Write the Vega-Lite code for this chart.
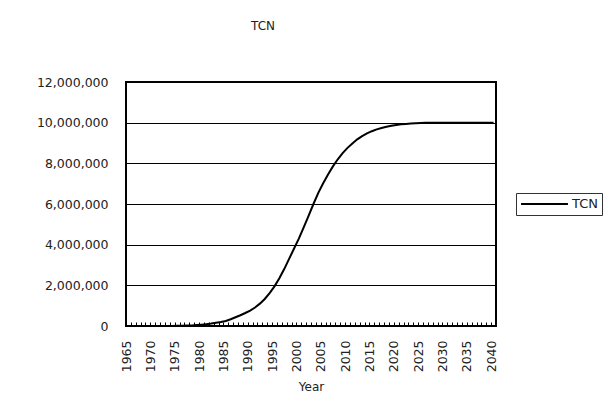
{
  "$schema": "https://vega.github.io/schema/vega-lite/v6.json",
  "autosize": "none",
  "width": 370,
  "height": 244,
  "padding": {"left": 126, "top": 82, "right": 115, "bottom": 84},
  "background": "white",
  "config": {
    "font": "DejaVu Sans",
    "view": {"stroke": "#000", "strokeWidth": 2},
    "axis": {"labelFont": "DejaVu Sans", "titleFont": "DejaVu Sans", "labelColor": "#222", "titleColor": "#222", "titleFontWeight": "normal"}
  },
  "title": {
    "text": "TCN",
    "fontSize": 12,
    "fontWeight": "normal",
    "color": "#222",
    "anchor": "middle",
    "dx": -48,
    "offset": 43
  },
  "data": {
    "values": [
      {"Year": 1965, "TCN": 0}, {"Year": 1966, "TCN": 0}, {"Year": 1967, "TCN": 0}, {"Year": 1968, "TCN": 0},
      {"Year": 1969, "TCN": 0}, {"Year": 1970, "TCN": 0}, {"Year": 1971, "TCN": 1000}, {"Year": 1972, "TCN": 2000},
      {"Year": 1973, "TCN": 4000}, {"Year": 1974, "TCN": 6000}, {"Year": 1975, "TCN": 10000}, {"Year": 1976, "TCN": 15000},
      {"Year": 1977, "TCN": 20000}, {"Year": 1978, "TCN": 30000}, {"Year": 1979, "TCN": 45000}, {"Year": 1980, "TCN": 65000},
      {"Year": 1981, "TCN": 90000}, {"Year": 1982, "TCN": 120000}, {"Year": 1983, "TCN": 160000}, {"Year": 1984, "TCN": 200000},
      {"Year": 1985, "TCN": 250000}, {"Year": 1986, "TCN": 330000}, {"Year": 1987, "TCN": 430000}, {"Year": 1988, "TCN": 530000},
      {"Year": 1989, "TCN": 640000}, {"Year": 1990, "TCN": 760000}, {"Year": 1991, "TCN": 910000}, {"Year": 1992, "TCN": 1100000},
      {"Year": 1993, "TCN": 1330000}, {"Year": 1994, "TCN": 1620000}, {"Year": 1995, "TCN": 1950000}, {"Year": 1996, "TCN": 2350000},
      {"Year": 1997, "TCN": 2800000}, {"Year": 1998, "TCN": 3300000}, {"Year": 1999, "TCN": 3800000}, {"Year": 2000, "TCN": 4300000},
      {"Year": 2001, "TCN": 4850000}, {"Year": 2002, "TCN": 5420000}, {"Year": 2003, "TCN": 6000000}, {"Year": 2004, "TCN": 6550000},
      {"Year": 2005, "TCN": 7020000}, {"Year": 2006, "TCN": 7450000}, {"Year": 2007, "TCN": 7850000}, {"Year": 2008, "TCN": 8200000},
      {"Year": 2009, "TCN": 8500000}, {"Year": 2010, "TCN": 8760000}, {"Year": 2011, "TCN": 8980000}, {"Year": 2012, "TCN": 9180000},
      {"Year": 2013, "TCN": 9340000}, {"Year": 2014, "TCN": 9470000}, {"Year": 2015, "TCN": 9580000}, {"Year": 2016, "TCN": 9670000},
      {"Year": 2017, "TCN": 9740000}, {"Year": 2018, "TCN": 9800000}, {"Year": 2019, "TCN": 9850000}, {"Year": 2020, "TCN": 9890000},
      {"Year": 2021, "TCN": 9920000}, {"Year": 2022, "TCN": 9940000}, {"Year": 2023, "TCN": 9960000}, {"Year": 2024, "TCN": 9970000},
      {"Year": 2025, "TCN": 9980000}, {"Year": 2026, "TCN": 9990000}, {"Year": 2027, "TCN": 9995000}, {"Year": 2028, "TCN": 10000000},
      {"Year": 2029, "TCN": 10000000}, {"Year": 2030, "TCN": 10000000}, {"Year": 2031, "TCN": 10000000}, {"Year": 2032, "TCN": 10000000},
      {"Year": 2033, "TCN": 10000000}, {"Year": 2034, "TCN": 10000000}, {"Year": 2035, "TCN": 10000000}, {"Year": 2036, "TCN": 10000000},
      {"Year": 2037, "TCN": 10000000}, {"Year": 2038, "TCN": 10000000}, {"Year": 2039, "TCN": 10000000}, {"Year": 2040, "TCN": 10000000}
    ]
  },
  "mark": {"type": "line", "strokeWidth": 2},
  "encoding": {
    "x": {
      "field": "Year",
      "type": "quantitative",
      "scale": {"domain": [1964.5, 2040.5], "nice": false, "zero": false},
      "axis": {
        "title": "Year",
        "titleFontSize": 12,
        "titlePadding": 10,
        "values": [1965,1966,1967,1968,1969,1970,1971,1972,1973,1974,1975,1976,1977,1978,1979,1980,1981,1982,1983,1984,1985,1986,1987,1988,1989,1990,1991,1992,1993,1994,1995,1996,1997,1998,1999,2000,2001,2002,2003,2004,2005,2006,2007,2008,2009,2010,2011,2012,2013,2014,2015,2016,2017,2018,2019,2020,2021,2022,2023,2024,2025,2026,2027,2028,2029,2030,2031,2032,2033,2034,2035,2036,2037,2038,2039,2040],
        "labelExpr": "datum.value % 5 == 0 ? '' + datum.value : ''",
        "labelOverlap": false,
        "labelAngle": 270,
        "labelFontSize": 12.5,
        "labelPadding": 18,
        "domain": false,
        "grid": false,
        "ticks": true,
        "tickSize": -4,
        "tickColor": "#000",
        "tickOffset": -2.43
      }
    },
    "y": {
      "field": "TCN",
      "type": "quantitative",
      "scale": {"domain": [0, 12000000], "nice": false},
      "axis": {
        "title": null,
        "values": [0, 2000000, 4000000, 6000000, 8000000, 10000000, 12000000],
        "format": ",d",
        "labelFontSize": 12.5,
        "labelPadding": 18,
        "ticks": false,
        "domain": false,
        "grid": true,
        "gridColor": "#000",
        "gridWidth": 1,
        "gridOpacity": 1
      }
    },
    "color": {
      "datum": "TCN",
      "scale": {"range": ["#000"]},
      "legend": {
        "title": null,
        "orient": "none",
        "legendX": 390,
        "legendY": 111,
        "strokeColor": "#333",
        "padding": 4,
        "clipHeight": 14,
        "symbolType": "stroke",
        "symbolSize": 2200,
        "symbolStrokeWidth": 2,
        "labelFontSize": 13,
        "labelColor": "#222",
        "labelOffset": 3
      }
    }
  }
}
